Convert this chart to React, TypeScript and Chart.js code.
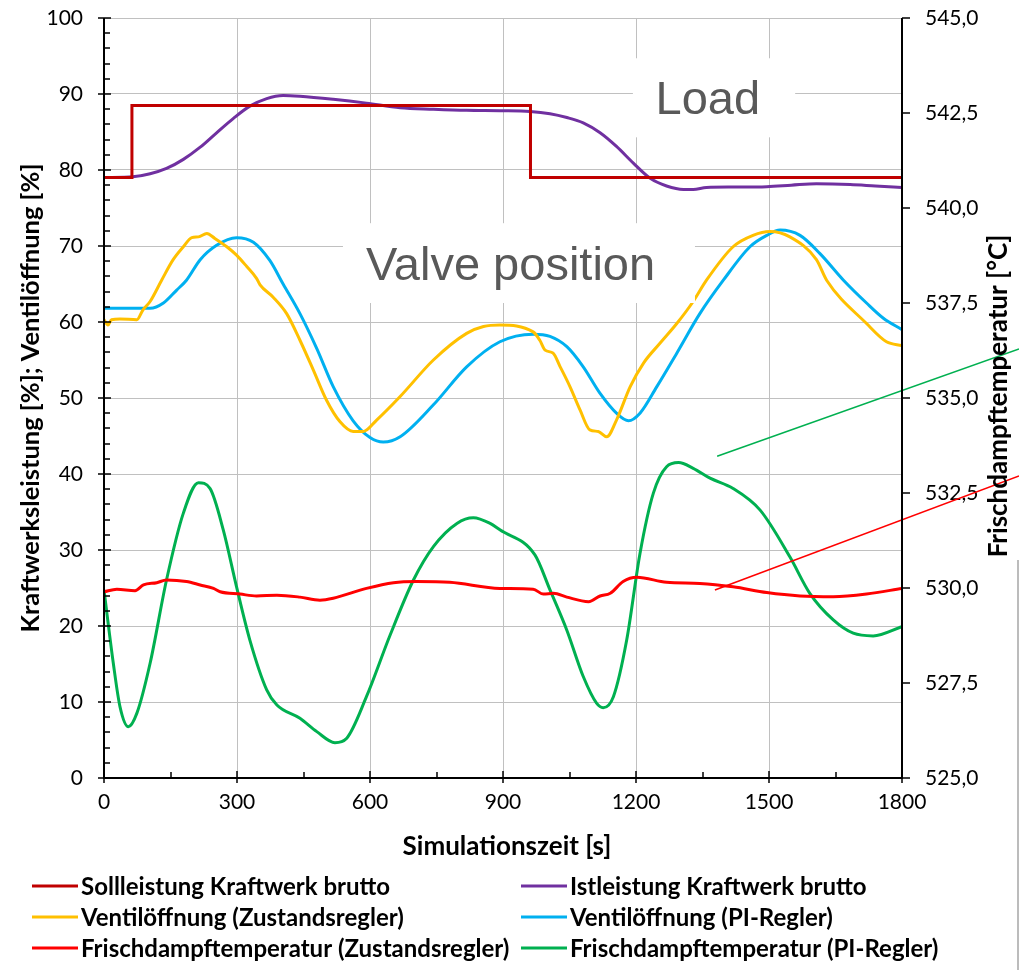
import React, { useEffect, useRef } from 'react';
import { Chart, registerables } from 'chart.js';

Chart.register(...registerables);

// ---------- data ----------
const sollT = [0, 63, 63, 962, 962, 1800];
const sollV = [79, 79, 88.5, 88.5, 79, 79];

const istT = [0, 65, 104, 141, 179, 217, 254, 292, 329, 367, 404, 442, 517, 592, 668, 743, 818, 893, 961, 1006, 1044, 1081, 1119, 1156, 1194, 1232, 1269, 1307, 1329, 1359, 1420, 1495, 1550, 1607, 1683, 1740, 1800];
const istV = [79.0, 79.1, 79.5, 80.2, 81.4, 83.0, 84.9, 86.8, 88.4, 89.4, 89.8, 89.7, 89.3, 88.8, 88.2, 88.0, 87.85, 87.8, 87.7, 87.4, 86.9, 86.2, 84.9, 83.1, 80.9, 78.9, 77.9, 77.45, 77.45, 77.7, 77.75, 77.8, 78.0, 78.2, 78.1, 77.9, 77.7];

const ventZT = [0, 9, 17, 36, 74, 88, 104, 130, 156, 179, 198, 213, 232, 250, 277, 299, 322, 344, 352, 381, 412, 442, 472, 502, 532, 562, 585, 615, 668, 743, 818, 856, 893, 968, 983, 995, 1013, 1029, 1051, 1074, 1096, 1115, 1134, 1156, 1187, 1217, 1254, 1292, 1329, 1359, 1419, 1464, 1502, 1547, 1607, 1630, 1720, 1765, 1800];
const ventZV = [60.3, 59.6, 60.3, 60.4, 60.3, 61.6, 62.7, 65.5, 68.2, 69.9, 71.1, 71.2, 71.65, 71.0, 69.9, 68.8, 67.3, 65.75, 64.9, 63.3, 61.1, 57.6, 53.7, 49.7, 46.9, 45.6, 45.6, 47.1, 50.2, 55.0, 58.5, 59.4, 59.6, 58.7, 57.6, 56.3, 55.9, 54.1, 51.5, 48.4, 45.8, 45.6, 44.9, 47.1, 51.5, 54.6, 57.2, 59.8, 62.7, 65.5, 69.9, 71.4, 71.9, 71.2, 68.2, 65.5, 59.8, 57.4, 56.9];

const ventPT = [0, 104, 134, 164, 186, 217, 254, 299, 337, 374, 404, 442, 480, 517, 562, 600, 630, 668, 743, 818, 893, 968, 1006, 1044, 1081, 1119, 1156, 1183, 1209, 1247, 1292, 1344, 1397, 1457, 1495, 1525, 1570, 1615, 1668, 1720, 1758, 1800];
const ventPV = [61.8, 61.8, 62.5, 64.2, 65.5, 68.2, 70.1, 71.1, 70.5, 68.1, 65.0, 61.1, 56.5, 51.5, 47.0, 44.8, 44.2, 44.9, 49.1, 54.1, 57.4, 58.4, 58.1, 56.75, 54.1, 50.6, 48.0, 47.0, 48.0, 51.5, 55.9, 61.1, 65.5, 69.9, 71.4, 72.1, 71.4, 69.0, 65.5, 62.5, 60.5, 59.0];

const tempZT = [0, 29, 70, 89, 119, 141, 186, 217, 247, 262, 307, 344, 390, 442, 487, 517, 592, 653, 705, 780, 893, 968, 991, 1014, 1044, 1093, 1119, 1142, 1171, 1202, 1269, 1344, 1419, 1495, 1570, 1645, 1720, 1800];
const tempZV = [529.9, 529.97, 529.93, 530.08, 530.14, 530.21, 530.17, 530.08, 529.99, 529.9, 529.84, 529.79, 529.81, 529.76, 529.68, 529.73, 529.99, 530.14, 530.17, 530.15, 529.99, 529.97, 529.84, 529.86, 529.76, 529.64, 529.79, 529.86, 530.17, 530.28, 530.15, 530.12, 530.03, 529.88, 529.79, 529.77, 529.84, 529.99];

const tempPT = [0, 21, 36, 55, 74, 104, 141, 179, 213, 239, 269, 299, 329, 367, 390, 442, 480, 521, 547, 592, 645, 698, 743, 796, 833, 871, 893, 972, 1006, 1044, 1081, 1111, 1126, 1149, 1179, 1209, 1239, 1269, 1296, 1329, 1367, 1419, 1480, 1547, 1592, 1645, 1690, 1735, 1800];
const tempPV = [529.95, 528.02, 526.88, 526.35, 526.7, 528.02, 530.21, 531.97, 532.77, 532.62, 531.53, 530.03, 528.63, 527.32, 526.92, 526.57, 526.22, 525.93, 526.04, 527.14, 528.75, 530.21, 531.09, 531.7, 531.85, 531.7, 531.53, 530.87, 529.95, 528.89, 527.67, 526.97, 526.85, 527.14, 528.63, 530.91, 532.49, 533.19, 533.3, 533.15, 532.89, 532.62, 532.05, 530.82, 529.86, 529.16, 528.81, 528.74, 528.98];

const seriesLabels = [
  'Sollleistung Kraftwerk brutto',
  'Istleistung Kraftwerk brutto',
  'Ventilöffnung (Zustandsregler)',
  'Ventilöffnung (PI-Regler)',
  'Frischdampftemperatur (Zustandsregler)',
  'Frischdampftemperatur (PI-Regler)',
];
const seriesColors = ['#C00000', '#7030A0', '#FFC000', '#00B0F0', '#FF0000', '#00B050'];

const xTitle = 'Simulationszeit [s]';
const yTitle = 'Kraftwerksleistung [%]; Ventilöffnung [%]';
const y2Title = 'Frischdampftemperatur [°C]';

// text boxes in data units (x: seconds, y: left axis %)
const boxLabels = ['Load', 'Valve position'];
const boxX0 = [1193, 539];
const boxX1 = [1559, 1333];
const boxY0 = [84.3, 62.5];
const boxY1 = [94.7, 73.0];
const boxTextX = [1362, 917];
const boxTextY = [89.1, 67.2];

// callout lines in data units (x: seconds, y: right axis °C)
const calloutColors = ['#00B050', '#FF0000'];
const calloutX0 = [1383, 1378];
const calloutY0 = [533.47, 529.95];
const calloutX1 = [2064, 2064];
const calloutY1 = [536.29, 532.95];

const FONT = 'Lato, "Open Sans", sans-serif';

function pts(t: number[], v: number[]) {
  return t.map((x, i) => ({ x, y: v[i] }));
}

const decoPlugin = {
  id: 'deco',
  afterDatasetsDraw(chart: any) {
    const ctx = chart.ctx;
    const xs = chart.scales.x;
    const ys = chart.scales.y;
    ctx.save();
    for (let i = 0; i < boxLabels.length; i++) {
      const x0 = xs.getPixelForValue(boxX0[i]);
      const x1 = xs.getPixelForValue(boxX1[i]);
      const y0 = ys.getPixelForValue(boxY1[i]);
      const y1 = ys.getPixelForValue(boxY0[i]);
      ctx.fillStyle = '#ffffff';
      ctx.fillRect(x0, y0, x1 - x0, y1 - y0);
      ctx.fillStyle = '#595959';
      ctx.font = '47px "Liberation Sans", Arial, sans-serif';
      ctx.textAlign = 'center';
      ctx.textBaseline = 'middle';
      ctx.fillText(boxLabels[i], xs.getPixelForValue(boxTextX[i]), ys.getPixelForValue(boxTextY[i]));
    }
    ctx.restore();
  },
  afterDraw(chart: any) {
    const ctx = chart.ctx;
    const { left, right, top, bottom } = chart.chartArea;
    const xs = chart.scales.x;
    const ys = chart.scales.y;
    const y2 = chart.scales.y2;
    ctx.save();
    const line = (a: number, b: number, c: number, d: number) => {
      ctx.beginPath();
      ctx.moveTo(a, b);
      ctx.lineTo(c, d);
      ctx.stroke();
    };
    // callouts
    ctx.lineWidth = 1.6;
    for (let i = 0; i < calloutColors.length; i++) {
      ctx.strokeStyle = calloutColors[i];
      line(xs.getPixelForValue(calloutX0[i]), y2.getPixelForValue(calloutY0[i]), xs.getPixelForValue(calloutX1[i]), y2.getPixelForValue(calloutY1[i]));
    }
    // gray frame edge at right
    ctx.strokeStyle = '#a6a6a6';
    ctx.lineWidth = 1.5;
    line(1018, 560, 1018, 970);

    // axes
    ctx.strokeStyle = '#000';
    ctx.lineWidth = 2;
    line(left, top, left, bottom + 1);
    line(right, top, right, bottom + 1);
    line(left - 1, bottom, right + 1, bottom);
    ctx.lineWidth = 1.5;
    for (let v = 0; v <= 100; v += 2) {
      const y = Math.round(ys.getPixelForValue(v));
      if (v % 10 === 0) line(left - 6, y, left + 7, y);
      else line(left, y, left + 6, y);
    }
    for (let t = 0; t <= 1800; t += 150) {
      const x = Math.round(xs.getPixelForValue(t));
      if (t % 300 === 0) line(x, bottom - 7, x, bottom + 5);
      else line(x, bottom - 6, x, bottom);
    }
    for (let v = 525; v <= 545; v += 2.5) {
      const y = Math.round(y2.getPixelForValue(v));
      line(right, y, right + 8, y);
    }

    // axis titles
    ctx.fillStyle = '#000';
    ctx.textAlign = 'center';
    ctx.textBaseline = 'middle';
    ctx.font = 'bold 26px ' + FONT;
    ctx.fillText(xTitle, (left + right) / 2 + 4, 847);
    ctx.save();
    ctx.font = 'bold 25.5px ' + FONT;
    ctx.translate(31, (top + bottom) / 2);
    ctx.rotate(-Math.PI / 2);
    ctx.fillText(yTitle, 0, 0);
    ctx.restore();
    ctx.save();
    ctx.font = 'bold 26px ' + FONT;
    ctx.translate(999, 396);
    ctx.rotate(-Math.PI / 2);
    ctx.fillText(y2Title, 0, 0);
    ctx.restore();

    // legend
    const rowsY = [886, 917, 948];
    const colLine = [32, 521];
    const colText = [81, 570];
    ctx.font = 'bold 24px ' + FONT;
    ctx.textAlign = 'left';
    chart.data.datasets.forEach((ds: any, i: number) => {
      const r = Math.floor(i / 2);
      const c = i % 2;
      const y = rowsY[r];
      ctx.strokeStyle = ds.borderColor;
      ctx.lineWidth = 3;
      line(colLine[c], y, colLine[c] + 46, y);
      ctx.fillStyle = '#000';
      ctx.fillText(ds.label, colText[c], y + 1);
    });
    ctx.restore();
  },
};

export default function App() {
  const ref = useRef<HTMLCanvasElement | null>(null);
  useEffect(() => {
    document.body.style.margin = '0';
    const canvas = ref.current!;
    const mk = (i: number, t: number[], v: number[], axis: string, stepped = false) => ({
      label: seriesLabels[i],
      data: pts(t, v),
      borderColor: seriesColors[i],
      backgroundColor: seriesColors[i],
      borderWidth: 3,
      pointRadius: 0,
      fill: false,
      tension: stepped ? 0 : 0.4,
      cubicInterpolationMode: stepped ? 'default' : 'monotone',
      yAxisID: axis,
    });
    const datasets = [
      mk(0, sollT, sollV, 'y', true),
      mk(1, istT, istV, 'y'),
      mk(2, ventZT, ventZV, 'y'),
      mk(3, ventPT, ventPV, 'y'),
      mk(4, tempZT, tempZV, 'y2'),
      mk(5, tempPT, tempPV, 'y2'),
    ];
    const tickFont = { family: FONT, size: 21 };
    const fitV = (w: number) => (s: any) => {
      s.width = w;
      s.paddingTop = 0;
      s.paddingBottom = 0;
    };
    const chart = new Chart(canvas, {
      type: 'line',
      data: { datasets } as any,
      options: {
        animation: false,
        responsive: false,
        devicePixelRatio: 1,
        layout: { padding: { top: 18, left: 0, right: 0, bottom: 0 } },
        plugins: { legend: { display: false }, tooltip: { enabled: false } },
        scales: {
          x: {
            type: 'linear',
            min: 0,
            max: 1800,
            ticks: { stepSize: 300, font: tickFont, color: '#000', padding: 12, maxRotation: 0, callback: (v: any) => String(v) },
            grid: { color: '#c0c0c0', lineWidth: 1, drawTicks: false },
            border: { display: false },
            afterFit: (s: any) => {
              s.height = 192;
              s.paddingLeft = 0;
              s.paddingRight = 0;
            },
          },
          y: {
            type: 'linear',
            position: 'left',
            min: 0,
            max: 100,
            ticks: { stepSize: 10, font: tickFont, color: '#000', padding: 21 },
            grid: { color: '#c0c0c0', lineWidth: 1, drawTicks: false },
            border: { display: false },
            afterFit: fitV(104),
          },
          y2: {
            type: 'linear',
            position: 'right',
            min: 525,
            max: 545,
            ticks: {
              stepSize: 2.5,
              font: tickFont,
              color: '#000',
              padding: 23,
              callback: (v: any) => Number(v).toFixed(1).replace('.', ','),
            },
            grid: { display: false, drawTicks: false },
            border: { display: false },
            afterFit: fitV(117),
          },
        },
      } as any,
      plugins: [decoPlugin],
    });
    return () => chart.destroy();
  }, []);
  return (
    <div style={{ width: 1019, height: 970 }}>
      <canvas ref={ref} width={1019} height={970} style={{ width: 1019, height: 970, display: 'block' }} />
    </div>
  );
}
